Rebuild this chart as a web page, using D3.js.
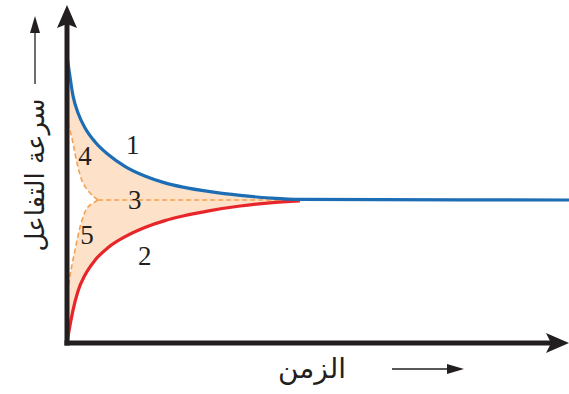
<!DOCTYPE html>
<html><head><meta charset="utf-8">
<script src="https://cdn.jsdelivr.net/npm/d3@7"></script>
<style>html,body{margin:0;padding:0;background:#fff;}svg{display:block;}</style>
</head><body>
<svg id="c" width="569" height="394"></svg>
<script>
// Data (time, rate)
const timeT = [0.1, 0.4, 1.2, 2.2, 3.6, 5.6, 8.2, 11.6, 15.5, 19.5, 23.1, 28.5, 34.5, 40.4, 46.4];
const blueR = [99.0, 95.5, 86.4, 80.4, 75.2, 70.3, 65.9, 61.7, 58.4, 56.0, 54.5, 52.9, 51.6, 50.7, 50.2];
const redR  = [1.05, 4.2, 11.5, 18.2, 23.8, 29.0, 33.4, 37.2, 40.4, 42.8, 44.4, 46.3, 47.9, 49.0, 49.7];
const equilT = [46.4, 100];
const equilR = [50.2, 50];
const dash4T = [0.1, 0.4, 1.2, 2, 3.2, 5, 6.2];
const dash4R = [77, 75.5, 69.9, 62.9, 55.9, 51.7, 50];
const dash5T = [6.2, 4.2, 3, 1.6, 0.8, 0.4, 0.1];
const dash5R = [50, 47.6, 43.0, 32.5, 25.5, 21.3, 18.5];
const dash3T = [6.2, 46.4];
const dash3R = [50, 50];
const labels = ["1", "2", "3", "4", "5"];
const labelT = [13.1, 15.5, 13.5, 3.6, 4.0];
const labelR = [69.2, 30.4, 50, 65.4, 37.8];
const yTitle = "سرعة التفاعل";
const xTitle = "الزمن";

const svg = d3.select("#c");
const x = d3.scaleLinear().domain([0, 100]).range([67, 569]);
const y = d3.scaleLinear().domain([0, 100]).range([343, 57]);

const pts = (T, R) => T.map((t, i) => [t, R[i]]);
const mono = d3.line().x(d => x(d[0])).y(d => y(d[1])).curve(d3.curveMonotoneX);
const cr = d3.line().x(d => x(d[0])).y(d => y(d[1])).curve(d3.curveCatmullRom.alpha(0.5));
const straight = d3.line().x(d => x(d[0])).y(d => y(d[1]));

const blue = pts(timeT, blueR).concat(pts(equilT, equilR).slice(1));
const red = pts(timeT, redR);
const d4 = pts(dash4T, dash4R);
const d5 = pts(dash5T, dash5R);

// shaded band between the two curves
const area = d3.area().x((d, i) => x(timeT[i]))
  .y0((d, i) => y(redR[i])).y1((d, i) => y(blueR[i])).curve(d3.curveMonotoneX);
svg.append("path").attr("d", area(timeT)).attr("fill", "#fde2c9");

// unshaded pocket left of dashed curves 4 and 5
const pocket = cr(d4) + cr(d5).replace(/^M/, "L") + "Z";
svg.append("path").attr("d", pocket).attr("fill", "#fff");

// dashed lines
[d4, d5].forEach(d => svg.append("path").attr("d", cr(d)).attr("fill", "none")
  .attr("stroke", "#f3a050").attr("stroke-width", 1.6).attr("stroke-dasharray", "5,3"));
svg.append("path").attr("d", straight(pts(dash3T, dash3R))).attr("fill", "none")
  .attr("stroke", "#f3a050").attr("stroke-width", 1.6).attr("stroke-dasharray", "5,3");

// curves
svg.append("path").attr("d", mono(red)).attr("fill", "none")
  .attr("stroke", "#e8262a").attr("stroke-width", 3.2);
svg.append("path").attr("d", mono(blue)).attr("fill", "none")
  .attr("stroke", "#1d6db5").attr("stroke-width", 3.2);

// axes
const axColor = "#231f20";
svg.append("line").attr("x1", x(0)).attr("x2", x(0)).attr("y1", 345.5).attr("y2", 24)
  .attr("stroke", axColor).attr("stroke-width", 5);
svg.append("line").attr("x1", x(0) - 2.5).attr("x2", 553).attr("y1", 343).attr("y2", 343)
  .attr("stroke", axColor).attr("stroke-width", 5);
svg.append("path").attr("d", `M${x(0)},5 L${x(0)+10},28 L${x(0)},24 L${x(0)-10},28 Z`).attr("fill", axColor);
svg.append("path").attr("d", `M569,343 L546,333 L551,343 L546,353 Z`).attr("fill", axColor);

// curve labels
svg.selectAll("text.num").data(labels).join("text").attr("class", "num")
  .attr("x", (d, i) => x(labelT[i])).attr("y", (d, i) => y(labelR[i]))
  .attr("text-anchor", "middle").attr("dominant-baseline", "central")
  .attr("font-family", "Liberation Serif, serif").attr("font-size", 27)
  .attr("fill", "#231f20").text(d => d);

// y title
svg.append("text").attr("transform", "translate(44,175) rotate(-90)")
  .attr("text-anchor", "middle").attr("font-family", "DejaVu Sans, sans-serif")
  .attr("font-size", 26).attr("fill", "#231f20").attr("direction", "rtl").text(yTitle);
svg.append("line").attr("x1", 35).attr("x2", 35).attr("y1", 84).attr("y2", 30)
  .attr("stroke", "#231f20").attr("stroke-width", 1.3);
svg.append("path").attr("d", "M35,16 L40,33 L30,33 Z").attr("fill", "#231f20");

// x title
svg.append("text").attr("x", 312).attr("y", 378)
  .attr("text-anchor", "middle").attr("font-family", "DejaVu Sans, sans-serif")
  .attr("font-size", 28).attr("fill", "#231f20").attr("direction", "rtl").text(xTitle);
svg.append("line").attr("x1", 392).attr("x2", 450).attr("y1", 369).attr("y2", 369)
  .attr("stroke", "#231f20").attr("stroke-width", 1.3);
svg.append("path").attr("d", "M464,369 L447,364 L447,374 Z").attr("fill", "#231f20");
</script>
</body></html>
